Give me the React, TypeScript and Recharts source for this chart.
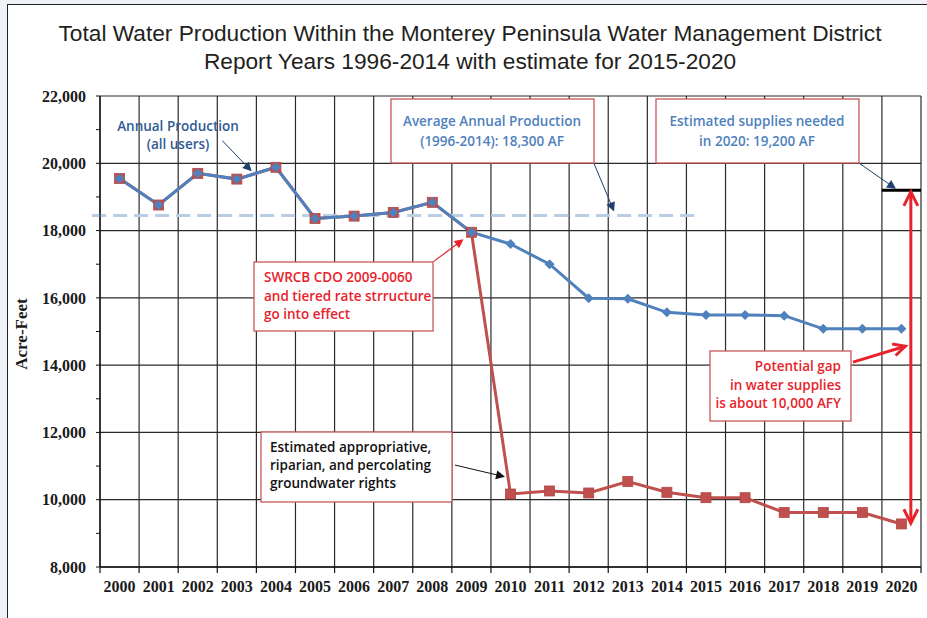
import { CartesianGrid, ComposedChart, Line, ReferenceLine, XAxis, YAxis } from "recharts";

const years = [2000, 2001, 2002, 2003, 2004, 2005, 2006, 2007, 2008, 2009, 2010, 2011, 2012, 2013, 2014, 2015, 2016, 2017, 2018, 2019, 2020];
const production = [19550, 18760, 19700, 19530, 19880, 18360, 18430, 18540, 18840, 17950, 17600, 17000, 15990, 15970, 15570, 15490, 15490, 15470, 15080, 15080, 15080];
const rights = [19550, 18760, 19700, 19530, 19880, 18360, 18430, 18540, 18840, 17950, 10170, 10260, 10200, 10540, 10220, 10060, 10060, 9620, 9620, 9620, 9280];
const yTicks = [8000, 9000, 10000, 11000, 12000, 13000, 14000, 15000, 16000, 17000, 18000, 19000, 20000, 21000, 22000];
const yGrid = [8000, 10000, 12000, 14000, 16000, 18000, 20000, 22000];
const yearEdges = [1999.5, 2000.5, 2001.5, 2002.5, 2003.5, 2004.5, 2005.5, 2006.5, 2007.5, 2008.5, 2009.5, 2010.5, 2011.5, 2012.5, 2013.5, 2014.5, 2015.5, 2016.5, 2017.5, 2018.5, 2019.5, 2020.5];

const averageProduction = 18450;
const averageStart = 1999.3;
const averageEnd = 2014.8;
const supplyNeeded = 19200;

// arrows in chart units: [yearFrom, valueFrom, yearTo, valueTo]
const arrowAnnual = [2002.63, 20670, 2003.38, 19760];
const arrowAverage = [2012.13, 20010, 2012.65, 18570];
const arrowSupply = [2018.91, 20010, 2019.86, 19240];
const arrowCdo = [2008.02, 17070, 2008.8, 17740];
const arrowRights = [2008.58, 11030, 2009.86, 10680];
const arrowGap = [2018.76, 14090, 2020.1, 14560];
const gapArrow = [2020.24, 19150, 2020.24, 9300];

const BLUE = "#4f81bd";
const RED = "#c0504d";
const BRIGHT_RED = "#e8232b";
const BOX_BORDER = "#c9575a";

const rows = years.map((year, i) => ({ year, production: production[i], rights: rights[i] }));

const yearTicks = [...yearEdges, ...years].sort((a, b) => a - b);

const fmt = (v: number) => (v % 2000 === 0 ? v.toLocaleString("en-US") : "");

const YearTick = (props: any) => {
  const { x, y, payload } = props;
  const v = payload.value;
  if (!Number.isInteger(v)) {
    return <line x1={x} y1={y} x2={x} y2={y + 6} stroke="#111" strokeWidth={1.2} />;
  }
  return (
    <text x={x} y={y + 25} textAnchor="middle" fontFamily="'Liberation Serif', serif" fontWeight="bold" fontSize={16} fill="#1a1a1a">
      {v}
    </text>
  );
};

const Diamond = (props: any) => {
  const { cx, cy, index } = props;
  if (cx == null || cy == null) return <g key={`d-${index}`} />;
  const r = 5;
  return <path key={`d-${index}`} d={`M${cx},${cy - r}L${cx + r},${cy}L${cx},${cy + r}L${cx - r},${cy}Z`} fill={BLUE} />;
};

const Square = (props: any) => {
  const { cx, cy, index } = props;
  if (cx == null || cy == null) return <g key={`s-${index}`} />;
  const r = 5;
  return <rect key={`s-${index}`} x={cx - r} y={cy - r} width={2 * r} height={2 * r} fill={RED} stroke="#b24744" strokeWidth={0.8} />;
};

const arrowShape = (color: string, width: number, head: number, open: boolean, both = false) => (props: any) => {
  const { x1, y1, x2, y2 } = props;
  const head1 = (tx: number, ty: number, fx: number, fy: number, k: string) => {
    const a = Math.atan2(ty - fy, tx - fx);
    const w = head * 0.5;
    const bx = tx - head * Math.cos(a);
    const by = ty - head * Math.sin(a);
    const lx = bx + w * Math.sin(a);
    const ly = by - w * Math.cos(a);
    const rx = bx - w * Math.sin(a);
    const ry = by + w * Math.cos(a);
    return open ? (
      <polyline key={k} points={`${lx},${ly} ${tx},${ty} ${rx},${ry}`} fill="none" stroke={color} strokeWidth={width} strokeLinejoin="miter" />
    ) : (
      <polygon key={k} points={`${lx},${ly} ${tx},${ty} ${rx},${ry}`} fill={color} />
    );
  };
  const a = Math.atan2(y2 - y1, x2 - x1);
  const cut = open ? 0 : head * 0.7;
  return (
    <g>
      <line x1={x1} y1={y1} x2={x2 - cut * Math.cos(a)} y2={y2 - cut * Math.sin(a)} stroke={color} strokeWidth={width} />
      {head1(x2, y2, x1, y1, "h2")}
      {both && head1(x1, y1, x2, y2, "h1")}
    </g>
  );
};

const seg = (a: number[]) => [
  { x: a[0], y: a[1] },
  { x: a[2], y: a[3] },
];

const noteFont = "'Open Sans', Lato, sans-serif";
const noteSize = 13.5;

const Box = ({ x, y, w, h, lines, color, anchor, tx, ly }: any) => (
  <g>
    <rect x={x} y={y} width={w} height={h} fill="#fff" stroke={BOX_BORDER} strokeWidth={1.3} />
    {lines.map((t: string, i: number) => (
      <text key={t} x={tx} y={ly[i]} textAnchor={anchor} dominantBaseline="central" fontFamily={noteFont} fontWeight={600} fontSize={noteSize} fill={color}>
        {t}
      </text>
    ))}
  </g>
);

export default function App() {
  return (
    <div style={{ position: "absolute", left: 0, top: 0, width: 927, height: 618, background: "#eef2f7", overflow: "hidden" }}>
      <div style={{ position: "absolute", left: 7, top: 4, width: 927, height: 620, background: "#fff", borderLeft: "1.5px solid #222", borderTop: "1.5px solid #222" }} />
      <div style={{ position: "absolute", left: 0, top: 0 }}>
        <ComposedChart width={927} height={618} data={rows} margin={{ top: 96, right: 6, bottom: 11, left: 0 }}>
          <CartesianGrid verticalValues={yearEdges} horizontalValues={yGrid} stroke="#2a2a2a" strokeWidth={1.2} />
          <XAxis
            type="number"
            dataKey="year"
            domain={[1999.5, 2020.5]}
            ticks={yearTicks}
            interval={0}
            height={40}
            tickSize={0}
            tickMargin={0}
            tickLine={false}
            tick={YearTick}
            axisLine={{ stroke: "#111", strokeWidth: 1.3 }}
            allowDataOverflow
          />
          <YAxis
            type="number"
            domain={[8000, 22000]}
            ticks={yTicks}
            interval={0}
            width={100}
            tickSize={4}
            tickMargin={10}
            tickFormatter={fmt}
            tick={{ fontFamily: "'Liberation Serif', serif", fontWeight: "bold", fontSize: 16, fill: "#1a1a1a" }}
            tickLine={{ stroke: "#111" }}
            axisLine={{ stroke: "#111", strokeWidth: 1.3 }}
            allowDataOverflow
          />
          <ReferenceLine
            segment={[
              { x: averageStart, y: averageProduction },
              { x: averageEnd, y: averageProduction },
            ]}
            stroke="#b9cde5"
            strokeWidth={3}
            strokeDasharray="14 7"
            ifOverflow="visible"
          />
          <Line dataKey="rights" stroke={RED} strokeWidth={3} dot={Square} isAnimationActive={false} />
          <Line dataKey="production" stroke={BLUE} strokeWidth={3} dot={Diamond} isAnimationActive={false} />
          <ReferenceLine
            segment={[
              { x: 2019.5, y: supplyNeeded },
              { x: 2020.5, y: supplyNeeded },
            ]}
            stroke="#000"
            strokeWidth={3}
            ifOverflow="visible"
          />
          <ReferenceLine segment={seg(arrowAnnual)} ifOverflow="visible" shape={arrowShape("#1f3f6e", 1, 9, false)} />
          <ReferenceLine segment={seg(arrowAverage)} ifOverflow="visible" shape={arrowShape("#1f3f6e", 1, 9, false)} />
          <ReferenceLine segment={seg(arrowSupply)} ifOverflow="visible" shape={arrowShape("#1f3f6e", 1, 9, false)} />
          <ReferenceLine segment={seg(arrowCdo)} ifOverflow="visible" shape={arrowShape(BRIGHT_RED, 1.2, 9, false)} />
          <ReferenceLine segment={seg(arrowRights)} ifOverflow="visible" shape={arrowShape("#111", 1, 9, false)} />
          <ReferenceLine segment={seg(arrowGap)} ifOverflow="visible" shape={arrowShape(BRIGHT_RED, 3, 12, true)} />
          <ReferenceLine segment={seg(gapArrow)} ifOverflow="visible" shape={arrowShape(BRIGHT_RED, 3, 14, true, true)} />
        </ComposedChart>
      </div>
      <svg width={927} height={618} style={{ position: "absolute", left: 0, top: 0, pointerEvents: "none" }}>
        <text x={470} y={33} textAnchor="middle" dominantBaseline="central" fontFamily="'Liberation Sans', Arial, sans-serif" fontSize={22.7} fill="#231f20">
          Total Water Production Within the Monterey Peninsula Water Management District
        </text>
        <text x={470} y={61} textAnchor="middle" dominantBaseline="central" fontFamily="'Liberation Sans', Arial, sans-serif" fontSize={22.7} fill="#231f20">
          Report Years 1996-2014 with estimate for 2015-2020
        </text>
        <text
          x={21}
          y={334}
          transform="rotate(-90 21 334)"
          textAnchor="middle"
          dominantBaseline="central"
          fontFamily="'Liberation Serif', serif"
          fontWeight="bold"
          fontSize={17}
          fill="#1a1a1a"
        >
          Acre-Feet
        </text>
        <text x={178} y={126} textAnchor="middle" dominantBaseline="central" fontFamily={noteFont} fontWeight={600} fontSize={noteSize} fill="#2f5b94">
          Annual Production
        </text>
        <text x={178} y={144} textAnchor="middle" dominantBaseline="central" fontFamily={noteFont} fontWeight={600} fontSize={noteSize} fill="#2f5b94">
          (all users)
        </text>
        <Box x={391} y={99} w={203} h={64} lines={["Average Annual Production", "(1996-2014): 18,300 AF"]} color={BLUE} anchor="middle" tx={492} ly={[121, 141]} />
        <Box x={656} y={99} w={203} h={64} lines={["Estimated supplies needed", "in 2020: 19,200 AF"]} color={BLUE} anchor="middle" tx={757} ly={[121, 141]} />
        <Box x={254} y={262} w={179} h={69} lines={["SWRCB CDO 2009-0060", "and tiered rate strructure", "go into effect"]} color={BRIGHT_RED} anchor="start" tx={264} ly={[277, 296, 314]} />
        <Box x={261} y={432} w={191} h={70} lines={["Estimated appropriative,", "riparian, and percolating", "groundwater rights"]} color="#111" anchor="start" tx={270} ly={[447, 465, 483]} />
        <Box x={710} y={351} w={141} h={70} lines={["Potential gap", "in water supplies", "is about 10,000  AFY"]} color={BRIGHT_RED} anchor="end" tx={841} ly={[366, 385, 403]} />
      </svg>
    </div>
  );
}
